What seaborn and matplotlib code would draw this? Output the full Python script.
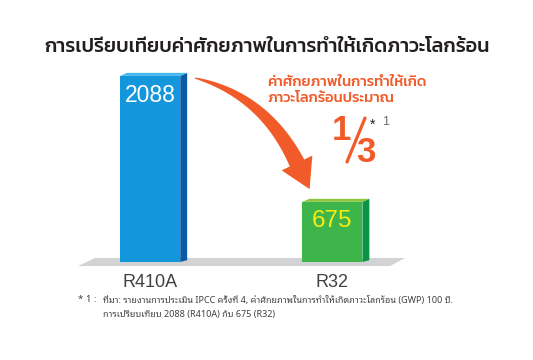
import matplotlib

matplotlib.use("Agg")

import matplotlib.pyplot as plt
import numpy as np
import seaborn as sns
from matplotlib.patches import Polygon
from matplotlib.transforms import Affine2D

# ข้อมูล
refrigerants = ["R410A", "R32"]
gwp = [2088, 675]
title = "การเปรียบเทียบค่าศักยภาพในการทำให้เกิดภาวะโลกร้อน"
note_lines = ["ค่าศักยภาพในการทำให้เกิด", "ภาวะโลกร้อนประมาณ"]
footnote_mark = "* 1 :"
footnote_lines = [
    "ที่มา: รายงานการประเมิน IPCC ครั้งที่ 4, ค่าศักยภาพในการทำให้เกิดภาวะโลกร้อน (GWP) 100 ปี.",
    "การเปรียบเทียบ 2088 (R410A) กับ 675 (R32)",
]

FRONT = ["#1496dc", "#3db54a"]
SIDE = ["#0b5aa7", "#0b9444"]
TOP = ["#45b8ee", "#8cc63f"]
ORANGE = "#f15a29"
GREY = "#414042"

W, H = 533, 360
sns.set_theme(style="white")
fig = plt.figure(figsize=(W / 100, H / 100), dpi=100)
# pixel coords (origin top-left) -> figure
PX = Affine2D().scale(1 / W, -1 / H).translate(0, 1) + fig.transFigure

ax = fig.add_axes([70 / W, 98 / H, 430 / W, 205 / H])
sns.barplot(x=refrigerants, y=gwp, hue=refrigerants, palette=FRONT, width=0.33,
            saturation=1, legend=False, ax=ax, zorder=3, linewidth=0)
ax.set_xlim(-0.44, 1.92)
ax.set_ylim(0, 2300)
sns.despine(ax=ax, left=True, bottom=True)
ax.set_yticks([])
ax.set_ylabel("")
ax.tick_params(axis="x", length=0, pad=8.5, labelsize=13, labelcolor=GREY)
for lab in ax.get_xticklabels():
    lab.set_family(["Liberation Sans", "DejaVu Sans"])

# 3D-ish sides and tops of the bars
dx, dy = 0.038, 34
for i, bar in enumerate(ax.patches):
    x0, w, h = bar.get_x(), bar.get_width(), bar.get_height()
    ax.add_patch(Polygon([(x0 + w, 0), (x0 + w + dx, dy * 0.6), (x0 + w + dx, h + dy),
                          (x0 + w, h)], closed=True, color=SIDE[i], lw=0, zorder=3))
    ax.add_patch(Polygon([(x0, h), (x0 + w, h), (x0 + w + dx, h + dy), (x0 + dx, h + dy)],
                         closed=True, color=TOP[i], lw=0, zorder=3))
    ax.annotate(f"{gwp[i]}", xy=(x0 + w / 2, h), xytext=(0, -13.8), textcoords="offset points",
                ha="center", va="center", fontsize=16.5 if i == 0 else 17.5,
                color="white" if i == 0 else "#f7ec13",
                family=["Liberation Sans", "DejaVu Sans"], zorder=5)

# floor
ax.add_patch(Polygon([(-0.303, 45), (1.399, 45), (1.316, -45), (-0.396, -45)], closed=True,
                     color="#d1d3d4", lw=0, zorder=1, clip_on=False))

# curved tapering arrow
P0, P1, P2 = np.array([195, 78.0]), np.array([264.5, 95.5]), np.array([297, 163.0])
t = np.linspace(0, 1, 80)[:, None]
c = (1 - t) ** 2 * P0 + 2 * (1 - t) * t * P1 + t ** 2 * P2
d = 2 * (1 - t) * (P1 - P0) + 2 * t * (P2 - P1)
d /= np.linalg.norm(d, axis=1, keepdims=True)
n = np.column_stack([-d[:, 1], d[:, 0]])
hw = (0.5 + 7.5 * t[:, 0] ** 0.8)[:, None]
upper, lower = c + n * hw, c - n * hw
tan, nor = d[-1], n[-1]
head = [P2 + nor * 17, P2 + tan * 29, P2 - nor * 17]
arrow = np.vstack([upper, head, lower[::-1]])
fig.patches.append(Polygon(arrow, closed=True, color=ORANGE, lw=0, transform=PX, zorder=4))


def fit(txt, width):
    fig.canvas.draw()
    bb = txt.get_window_extent()
    txt.set_fontsize(txt.get_fontsize() * width / bb.width)


t_title = fig.text(267, 47, title, transform=PX, ha="center", va="center", fontsize=15,
                   color="#231f20", family=["Kanit", "DejaVu Sans"], weight="medium")
fit(t_title, 446)

for k, line in enumerate(note_lines):
    tt = fig.text(267, 82 + 16 * k, line, transform=PX, ha="left", va="center", fontsize=11,
                  color=ORANGE, family=["Kanit", "DejaVu Sans"], weight="medium")
    if k == 0:
        fit(tt, 160)
        fs = tt.get_fontsize()
    else:
        tt.set_fontsize(fs)

# 1/3
num_font = ["Liberation Sans", "DejaVu Sans"]
fig.text(341, 140, "1", transform=PX, ha="center", va="baseline", fontsize=25,
         weight="bold", color=ORANGE, family=num_font)
fig.text(366, 162, "3", transform=PX, ha="center", va="baseline", fontsize=25,
         weight="bold", color=ORANGE, family=num_font)
fig.lines.append(plt.Line2D([347, 365], [162, 118], transform=PX, color=ORANGE, lw=2.3))
fig.text(370, 125, "*", transform=PX, ha="left", va="center", fontsize=10,
         color="#231f20", family=num_font)
fig.text(382, 122, "1", transform=PX, ha="left", va="center", fontsize=9,
         color="#6d6e71", family=num_font)

# footnote
foot_font = ["Noto Sans Thai Looped", "DejaVu Sans"]
fig.text(78, 300, footnote_mark, transform=PX, ha="left", va="center", fontsize=7,
         color=GREY, family=foot_font)
f1 = fig.text(103, 300, footnote_lines[0], transform=PX, ha="left", va="center",
              fontsize=6.5, color=GREY, family=foot_font)
fit(f1, 350)
fig.text(103, 315, footnote_lines[1], transform=PX, ha="left", va="center",
         fontsize=f1.get_fontsize(), color=GREY, family=foot_font)

fig.savefig("out.png", dpi=100)
